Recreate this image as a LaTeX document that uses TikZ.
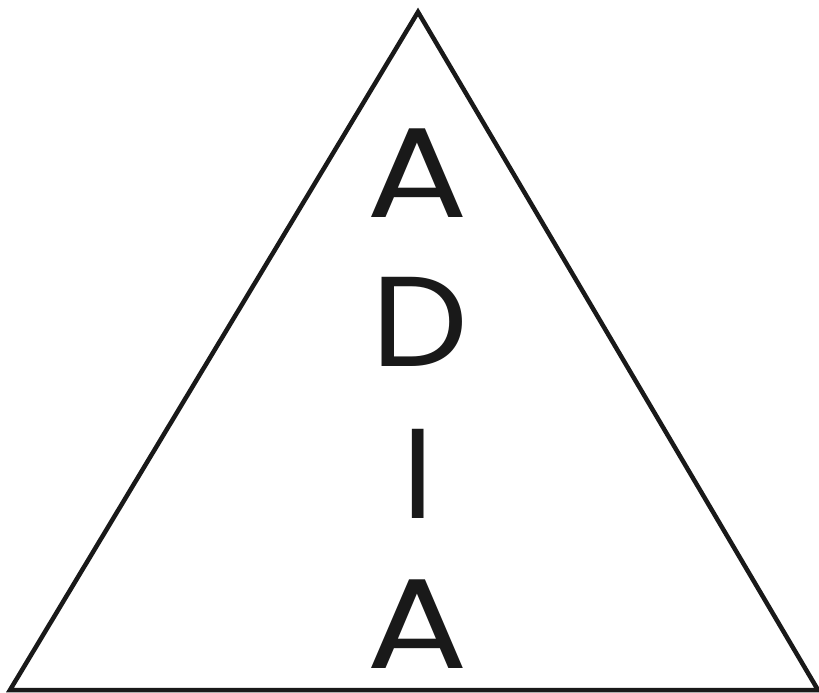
\documentclass[tikz,border=0pt]{standalone}
\usepackage{fontspec}
\setmainfont{Poppins}
\begin{document}
\begin{tikzpicture}[x=1pt,y=-1pt,
  side/.style={line width=4.5pt,line join=miter,draw=black!90},
  letter/.style={anchor=base,inner sep=0pt,font=\fontsize{128}{128}\selectfont,text=black!90}]
\useasboundingbox (0,0) rectangle (819,693);
\coordinate (apex) at (418,12);
\coordinate (bl) at (10,690);
\coordinate (br) at (818,690);
\draw[side] (bl) -- (apex) -- (br) -- cycle;
\node[letter,xscale=1.18] (a1) at (417,217) {A};
\node[letter,xscale=1.07] (d) at (420,366) {D};
\node[letter] (i) at (418,518) {I};
\node[letter,xscale=1.18] (a2) at (417,668) {A};
\end{tikzpicture}
\end{document}
